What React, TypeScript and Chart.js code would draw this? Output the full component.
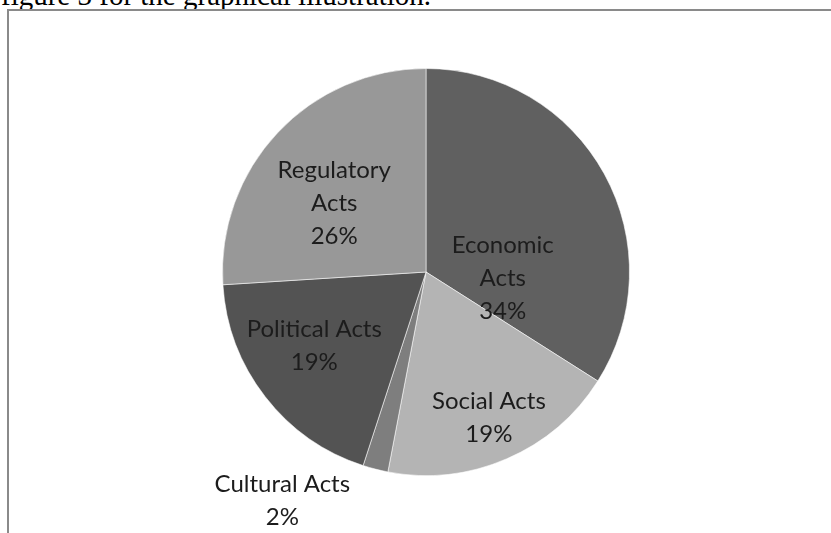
import React, { useEffect, useRef } from "react";
import { Chart, registerables } from "chart.js";

Chart.register(...registerables);

const categories = ["Economic Acts", "Social Acts", "Cultural Acts", "Political Acts", "Regulatory Acts"];
const values = [34, 19, 2, 19, 26];
const percentLabels = ["34%", "19%", "2%", "19%", "26%"];
const labelLines = [["Economic", "Acts"], ["Social Acts"], ["Cultural Acts"], ["Political Acts"], ["Regulatory", "Acts"]];

// layout / style (not data)
const sliceColors = ["#606060", "#b4b4b4", "#7e7e7e", "#535353", "#989898"];
// label block centres in units of the pie radius, relative to the pie centre
const labelOffsets = [
  [0.377, 0.03],
  [0.309, 0.716],
  [-0.706, 1.123],
  [-0.549, 0.363],
  [-0.451, -0.338],
];

const labelPlugin = {
  id: "sliceLabels",
  afterDatasetsDraw(chart: any) {
    const meta = chart.getDatasetMeta(0);
    const ctx = chart.ctx;
    ctx.save();
    ctx.font = "24px Lato";
    ctx.fillStyle = "#1c1c1c";
    ctx.textAlign = "center";
    ctx.textBaseline = "middle";
    const lh = 33;
    meta.data.forEach((arc: any, i: number) => {
      const r = arc.outerRadius;
      const cx = arc.x + labelOffsets[i][0] * r;
      const cy = arc.y + labelOffsets[i][1] * r;
      const lines = [...labelLines[i], percentLabels[i]];
      const top = cy - ((lines.length - 1) * lh) / 2;
      lines.forEach((t, j) => ctx.fillText(t, cx, top + j * lh));
    });
    ctx.restore();
  },
};

export default function App() {
  const ref = useRef<HTMLCanvasElement | null>(null);
  useEffect(() => {
    if (!ref.current) return;
    const chart = new Chart(ref.current, {
      type: "pie",
      data: {
        labels: categories,
        datasets: [
          {
            data: values,
            backgroundColor: sliceColors,
            borderColor: "rgba(255,255,255,0.55)",
            borderWidth: 1,
          },
        ],
      },
      options: {
        responsive: false,
        animation: false,
        layout: { padding: { top: 68, bottom: 57, left: 222, right: 201 } },
        plugins: { legend: { display: false }, tooltip: { enabled: false } },
      },
      plugins: [labelPlugin],
    });
    return () => chart.destroy();
  }, []);

  return (
    <div style={{ position: "fixed", left: 0, top: 0, width: 831, height: 533, overflow: "hidden", background: "#fff" }}>
      <div
        style={{
          position: "absolute",
          left: 1,
          top: -19,
          fontFamily: "'Liberation Serif', serif",
          fontSize: 29,
          lineHeight: "29px",
          whiteSpace: "nowrap",
          color: "#000",
        }}
      >
        figure 3 for the graphical illustration.
      </div>
      <div
        style={{
          position: "absolute",
          left: 7,
          top: 9,
          width: 1000,
          height: 1000,
          borderTop: "2px solid #8a8a8a",
          borderLeft: "2px solid #8a8a8a",
        }}
      />
      <canvas ref={ref} width={831} height={533} style={{ position: "absolute", left: 0, top: 0, width: 831, height: 533 }} />
    </div>
  );
}
